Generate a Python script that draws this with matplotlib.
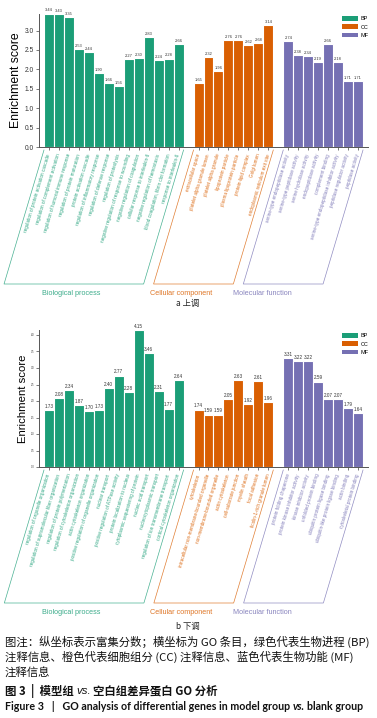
import matplotlib
matplotlib.use("Agg")
import numpy as np
import matplotlib.pyplot as plt
from matplotlib.patches import Patch
from matplotlib.lines import Line2D

W, H = 377, 718
plt.rcParams["font.family"] = ["Liberation Sans", "Noto Sans CJK SC", "DejaVu Sans"]

group_keys = ["BP", "CC", "MF"]
group_names = ["Biological process", "Cellular component", "Molecular function"]
group_colors = ["#1b9e77", "#d95f02", "#7570b3"]

# ---- a: up-regulated ----
up_bp_terms = [
    "regulation of protein activation cascade",
    "regulation of complement activation",
    "regulation of humoral immune response",
    "regulation of protein maturation",
    "protein activation cascade",
    "regulation of inflammatory response",
    "regulation of defense response",
    "regulation of proteolysis",
    "negative regulation of response to wounding",
    "negative regulation of coagulation",
    "cellular response to interleukin-6",
    "negative regulation of hemostasis",
    "blood coagulation, fibrin clot formation",
    "response to interleukin-6",
]
up_bp_scores = [3.44, 3.43, 3.35, 2.53, 2.44, 1.90, 1.66, 1.56, 2.27, 2.30, 2.83, 2.24, 2.28, 2.66]
up_cc_terms = [
    "extracellular space",
    "platelet alpha granule lumen",
    "platelet alpha granule",
    "lipoprotein particle",
    "plasma lipoprotein particle",
    "protein-lipid complex",
    "Golgi lumen",
    "endoplasmic reticulum exit site",
]
up_cc_scores = [1.65, 2.32, 1.96, 2.76, 2.76, 2.62, 2.68, 3.14]
up_mf_terms = [
    "serine-type endopeptidase activity",
    "serine-type peptidase activity",
    "serine hydrolase activity",
    "endopeptidase activity",
    "complement binding",
    "serine-type endopeptidase inhibitor activity",
    "peptidase regulator activity",
    "peptidase activity",
]
up_mf_scores = [2.74, 2.38, 2.34, 2.19, 2.66, 2.18, 1.71, 1.71]

# ---- b: down-regulated ----
down_bp_terms = [
    "regulation of organelle organization",
    "regulation of supramolecular fiber organization",
    "regulation of protein polymerization",
    "regulation of cytoskeleton organization",
    "actin cytoskeleton organization",
    "positive regulation of organelle organization",
    "nuclear transport",
    "positive regulation of ATPase activity",
    "protein localization to nucleus",
    "cytoplasmic sequestering of protein",
    "nucleic acid transport",
    "nucleocytoplasmic transport",
    "regulation of ion transmembrane transport",
    "cortical cytoskeleton organization",
]
down_bp_scores = [1.73, 2.08, 2.34, 1.87, 1.70, 1.73, 2.40, 2.77, 2.28, 4.15, 3.46, 2.31, 1.77, 2.64]
down_cc_terms = [
    "cytoskeleton",
    "intracellular non-membrane-bounded organelle",
    "non-membrane-bounded organelle",
    "actin cytoskeleton",
    "cell-substrate junction",
    "myelin sheath",
    "focal adhesion",
    "ficolin-1-rich granule lumen",
]
down_cc_scores = [1.74, 1.59, 1.59, 2.05, 2.63, 1.92, 2.61, 1.96]
down_mf_terms = [
    "protein folding chaperone",
    "protein kinase inhibitor activity",
    "kinase inhibitor activity",
    "unfolded protein binding",
    "ubiquitin protein ligase binding",
    "ubiquitin-like protein ligase binding",
    "actin binding",
    "cytoskeletal protein binding",
]
down_mf_scores = [3.31, 3.22, 3.22, 2.59, 2.07, 2.07, 1.79, 1.64]

ANGLE = 73.4


def fpx(x, y):
    """pixel (from top-left) -> figure fraction"""
    return x / W, 1 - y / H


def draw_panel(fig, rect, terms, scores, ymax, yticks, tick_fs, value_fs,
               ylabel_fs, legend_xy, label_depth):
    ax = fig.add_axes(rect)
    xpos, labels, colors = [], [], []
    spans = []
    start = 0
    for g, (t, s) in enumerate(zip(terms, scores)):
        idx = np.arange(len(t)) + start
        bars = ax.bar(idx, s, width=1.0, color=group_colors[g],
                      edgecolor="white", linewidth=0.8)
        for b, v in zip(bars, s):
            ax.text(b.get_x() + b.get_width() / 2, v + ymax * 0.008, f"{v:.2f}",
                    ha="center", va="bottom", fontsize=value_fs, color="#333333")
        xpos.extend(idx)
        labels.extend(t)
        colors.extend([group_colors[g]] * len(t))
        spans.append((idx[0] - 0.5, idx[-1] + 0.5))
        start = idx[-1] + 2
    ax.set_xlim(-1.0, start - 1)
    ax.set_ylim(0, ymax)
    ax.set_yticks(yticks)
    ax.set_yticklabels([f"{v:.1f}" for v in yticks])
    ax.tick_params(axis="y", labelsize=tick_fs, length=2, width=0.5, pad=1.5,
                   color="#444444", labelcolor="#333333")
    ax.set_xticks(xpos)
    ax.set_xticklabels(labels, rotation=ANGLE, ha="right", va="center",
                       rotation_mode="anchor", fontsize=3.3)
    ax.tick_params(axis="x", length=2, width=0.5, pad=3, color="#444444")
    for lab, c in zip(ax.get_xticklabels(), colors):
        lab.set_color(c)
        lab.set_alpha(0.9)
    for sp in ["top", "right"]:
        ax.spines[sp].set_visible(False)
    for sp in ["left", "bottom"]:
        ax.spines[sp].set_linewidth(0.7)
        ax.spines[sp].set_color("#555555")
    ax.set_ylabel("Enrichment score", fontsize=ylabel_fs, labelpad=2)

    # parallelogram brackets around each group of labels
    shift = label_depth / np.tan(np.radians(ANGLE))
    for g, (xl, xr) in enumerate(spans):
        (pxl, ytop) = ax.transData.transform((xl, 0))
        (pxr, _) = ax.transData.transform((xr, 0))
        ytop -= 3
        ybot = ytop - label_depth
        xs = [pxl, pxl - shift, pxr - shift, pxr]
        ys = [ytop, ybot, ybot, ytop]
        fig.add_artist(Line2D(np.array(xs) / W, np.array(ys) / H,
                              transform=fig.transFigure, color=group_colors[g],
                              linewidth=0.5, alpha=0.8))
    ybot_fig = (ax.transData.transform((0, 0))[1] - 3 - label_depth) / H
    for g, cx in enumerate([71, 181, 262]):
        fig.text(cx / W, ybot_fig - 9 / H, group_names[g], ha="center", va="center",
                 fontsize=5.2, color=group_colors[g], alpha=0.85)

    handles = [Patch(facecolor=c, edgecolor="none") for c in group_colors]
    fig.legend(handles, group_keys, loc="upper left",
               bbox_to_anchor=fpx(*legend_xy), frameon=False, fontsize=4,
               handlelength=2.8, handleheight=0.9, handletextpad=0.6,
               labelspacing=0.55, borderpad=0, borderaxespad=0)
    return ax


fig = plt.figure(figsize=(W / 100, H / 100), dpi=100)

# panel a: axis bottom y=147 px, 3.44 units = 133.5 px
a_bottom, a_h = 147, 133.5
draw_panel(fig, [39 / W, 1 - a_bottom / H, 329 / W, a_h / H],
           [up_bp_terms, up_cc_terms, up_mf_terms],
           [up_bp_scores, up_cc_scores, up_mf_scores],
           3.44, np.arange(0, 3.01, 0.5), 4.8, 2.9, 8.8, (342, 16), 134)
fig.text(188 / W, 1 - 303 / H, "a 上调", ha="center", va="center", fontsize=6,
         family=["Noto Sans CJK SC"], color="#222222")

# panel b: axis bottom y=467 px, 33 px per unit
b_bottom = 467
draw_panel(fig, [39 / W, 1 - b_bottom / H, 329 / W, 4.15 * 33 / H],
           [down_bp_terms, down_cc_terms, down_mf_terms],
           [down_bp_scores, down_cc_scores, down_mf_scores],
           4.15, np.arange(0, 4.01, 0.5), 1.8, 3.3, 8.2, (342, 333), 133)
fig.text(188 / W, 1 - 626 / H, "b 下调", ha="center", va="center", fontsize=6,
         family=["Noto Sans CJK SC"], color="#222222")

# caption
cap_font = ["Noto Sans CJK SC", "DejaVu Sans"]
cap_lines = [
    "图注：纵坐标表示富集分数；横坐标为 GO 条目，绿色代表生物进程 (BP)",
    "注释信息、橙色代表细胞组分 (CC) 注释信息、蓝色代表生物功能 (MF)",
    "注释信息",
]
for i, line in enumerate(cap_lines):
    fig.text(5 / W, 1 - (642 + 15 * i) / H, line, ha="left", va="center",
             fontsize=8.2, family=cap_font, color="#111111")

renderer = fig.canvas.get_renderer()


def put_runs(x_px, y_px, runs, gap=2.5):
    x = x_px
    for s, kw in runs:
        t = fig.text(x / W, 1 - y_px / H, s, ha="left", va="center", **kw)
        x += t.get_window_extent(renderer).width + gap


bold = dict(fontsize=8.2, family=cap_font, weight="bold", color="#111111")
ital = dict(fontsize=8.2, family=["Liberation Sans"], style="italic", color="#111111")
put_runs(5, 691, [("图 3  |  模型组", bold), ("vs.", ital), ("空白组差异蛋白 GO 分析", bold)])
bold_en = dict(fontsize=7.7, family=["Lato"], weight="bold", color="#111111")
ital_en = dict(fontsize=7.7, family=["Lato"], weight="bold", style="italic", color="#111111")
put_runs(5, 706, [("Figure 3   |   GO analysis of differential genes in model group", bold_en),
                  ("vs.", ital_en), ("blank group", bold_en)])

fig.savefig("out.png", dpi=100)
